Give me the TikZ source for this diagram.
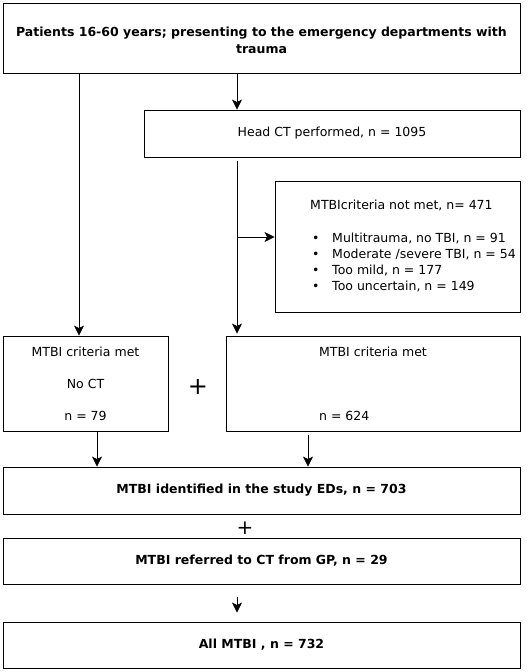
\documentclass[tikz,border=0pt]{standalone}
\usepackage{fontspec}
\setmainfont{DejaVu Sans}
\usetikzlibrary{arrows.meta, positioning}

\begin{document}
\begin{tikzpicture}[
        x=1pt, y=-1pt,
        box/.style={draw, line width=0.8pt, inner sep=0pt, align=center, font=\fontsize{12.5}{17}\selectfont},
        bbox/.style={box, font=\fontsize{12.5}{17}\selectfont\bfseries},
        plus/.style={inner sep=0pt, font=\fontsize{24}{24}\selectfont},
        arr/.style={-{Stealth[length=10pt, width=10pt, inset=2.5pt]}, line width=0.8pt}
        ]
    \useasboundingbox (0,0) rectangle (529,672);
    \node[bbox, minimum width=517pt, minimum height=70pt] (patients) at (261.5,38) {\rule{0pt}{15pt}Patients 16-60 years; presenting to the emergency departments with\\trauma};
    \node[box, minimum width=376pt, minimum height=47pt] (headct) at (332,133.5) {Head CT performed, n = 1095};
    \node[box, minimum width=245pt, minimum height=131pt, font=\fontsize{12.5}{15.7}\selectfont] (notmet) at (397.5,246.5) {%
        \begin{tabular}{@{\hspace{31pt}}l@{}}
        MTBIcriteria not met, n= 471\\[18pt]
        \makebox[22pt][l]{\hspace{2pt}\textbullet}Multitrauma, no TBI, n = 91\\
        \makebox[22pt][l]{\hspace{2pt}\textbullet}Moderate /severe TBI, n = 54\\
        \makebox[22pt][l]{\hspace{2pt}\textbullet}Too mild, n = 177\\
        \makebox[22pt][l]{\hspace{2pt}\textbullet}Too uncertain, n = 149
        \end{tabular}};
    \node[box, minimum width=165pt, minimum height=95pt, font=\fontsize{12.5}{32}\selectfont] (metnoct) at (85.5,383.5) {MTBI criteria met\\No CT\\n = 79};
    \node[box, align=left, minimum width=294pt, minimum height=95pt, font=\fontsize{12.5}{32}\selectfont] (metct) at (373,383.5) {MTBI criteria met\\[32pt]n = 624};
    \node[plus] (plusa) at (198,387) {+};
    \node[bbox, minimum width=517pt, minimum height=47pt] (eds) at (261.5,490.5) {MTBI identified in the study EDs, n = 703};
    \node[plus, font=\fontsize{20}{20}\selectfont] (plusb) at (245,528) {+};
    \node[bbox, minimum width=517pt, minimum height=46pt] (gp) at (261.5,561) {MTBI referred to CT from GP, n = 29};
    \node[bbox, minimum width=517pt, minimum height=46pt] (all) at (261.5,645) {All MTBI , n = 732};

    \coordinate (colL) at (79,0);
    \coordinate (colC) at (237,0);
    \coordinate (colA) at (97,0);
    \coordinate (colB) at (308,0);
    \coordinate (split) at (237,237);

    \draw[arr] (patients.south -| colC) -- (headct.north -| colC);
    \draw[arr] (patients.south -| colL) -- (metnoct.north -| colL);
    \draw[arr, shorten <=4pt, shorten >=2pt] (headct.south -| colC) -- (metct.north -| colC);
    \draw[arr] (split) -- (split -| notmet.west);
    \draw[arr] (metnoct.south -| colA) -- (eds.north -| colA);
    \draw[arr, shorten <=4pt] (metct.south -| colB) -- (eds.north -| colB);
    \draw[arr, shorten <=13pt, shorten >=9pt] (gp.south -| colC) -- (all.north -| colC);
\end{tikzpicture}
\end{document}
